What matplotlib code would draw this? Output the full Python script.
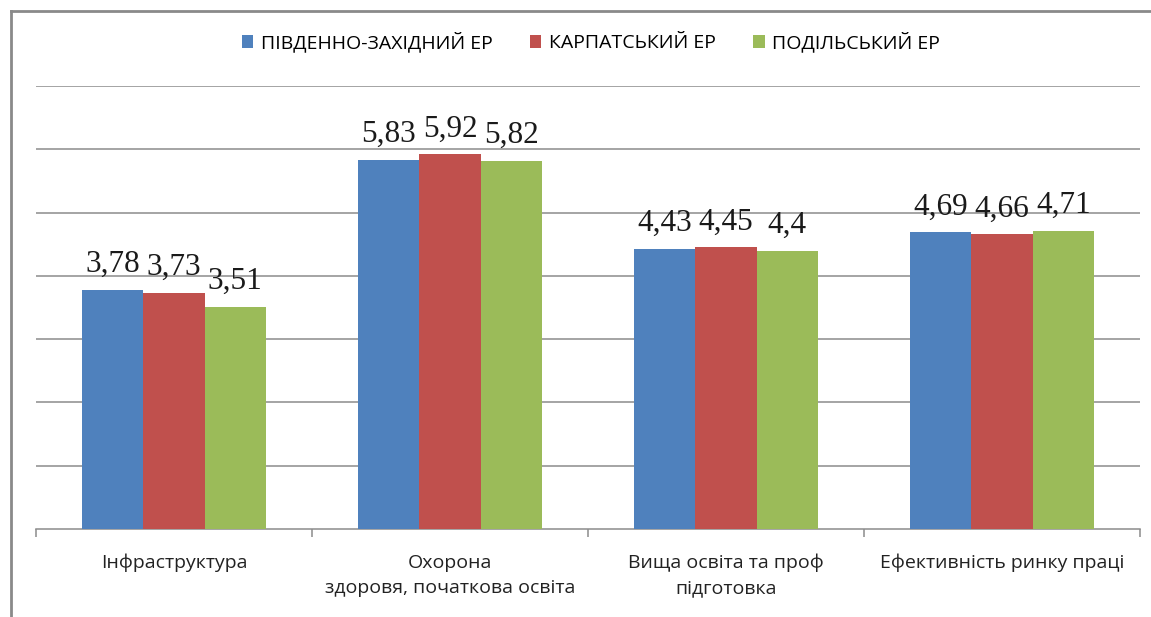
import matplotlib
matplotlib.use("Agg")
import matplotlib.pyplot as plt
from matplotlib.lines import Line2D
from matplotlib.patches import Patch
import numpy as np

categories = ["Інфраструктура", "Охорона\nздоровя, початкова освіта",
              "Вища освіта та проф\nпідготовка", "Ефективність ринку праці"]
series_names = ["ПІВДЕННО-ЗАХІДНИЙ ЕР", "КАРПАТСЬКИЙ ЕР", "ПОДІЛЬСЬКИЙ ЕР"]
south_west = [3.78, 5.83, 4.43, 4.69]
carpathian = [3.73, 5.92, 4.45, 4.66]
podillia = [3.51, 5.82, 4.40, 4.71]
value_labels = [["3,78", "5,83", "4,43", "4,69"],
                ["3,73", "5,92", "4,45", "4,66"],
                ["3,51", "5,82", "4,4", "4,71"]]
colors = ["#4F81BD", "#C0504D", "#9BBB59"]

W, H = 1151, 617
fig = plt.figure(figsize=(W / 100, H / 100), dpi=100)
ax = fig.add_axes([36 / W, 1 - 529 / H, (1140 - 36) / W, (529 - 86) / H])

x = np.arange(len(categories))
bw = 0.222
series = [south_west, carpathian, podillia]
for i, (vals, c, name) in enumerate(zip(series, colors, series_names)):
    pos = x + (i - 1) * bw
    ax.bar(pos, vals, width=bw, color=c, zorder=3, label=name)
    for p, v, t in zip(pos, vals, value_labels[i]):
        ax.text(p, v + 0.17, t, ha="center", va="bottom",
                family="Liberation Serif", fontsize=22.5, color="#1a1a1a", zorder=4)

ax.set_xlim(-0.5, 3.5)
ax.set_ylim(0, 7)
ax.set_yticks(np.arange(1, 8))
ax.yaxis.grid(True, color="#8c8c8c", linewidth=1.1)
ax.tick_params(axis="y", length=0, labelleft=False)
for s in ["left", "right", "top"]:
    ax.spines[s].set_visible(False)
ax.spines["bottom"].set_color("#8c8c8c")
ax.spines["bottom"].set_linewidth(1.1)

ax.set_xticks(np.arange(-0.5, 4.0, 1.0))
ax.set_xticklabels([])
ax.tick_params(axis="x", which="major", length=6, color="#8c8c8c", width=1.1, direction="out")
ax.set_xticks(x, minor=True)
ax.set_xticklabels(categories, minor=True, family="Open Sans", fontsize=14,
                   color="#222222", linespacing=1.5)
ax.tick_params(axis="x", which="minor", length=0, pad=18)

handles = [Patch(facecolor=c, edgecolor="none") for c in colors]
fig.legend(handles, series_names, loc="center", bbox_to_anchor=(591 / W, 1 - 42 / H),
           ncol=3, frameon=False, prop={"family": "Open Sans", "size": 14},
           handlelength=0.6, handleheight=0.6, handletextpad=0.4, columnspacing=1.9)

# outer frame (left and top edges)
fig.add_artist(Line2D([11 / W, 11 / W], [0, 1 - 11 / H], transform=fig.transFigure,
                      color="#8a8a8a", linewidth=2))
fig.add_artist(Line2D([11 / W, 1], [1 - 11 / H, 1 - 11 / H], transform=fig.transFigure,
                      color="#8a8a8a", linewidth=2))

fig.savefig("out.png", dpi=100, facecolor="white")
